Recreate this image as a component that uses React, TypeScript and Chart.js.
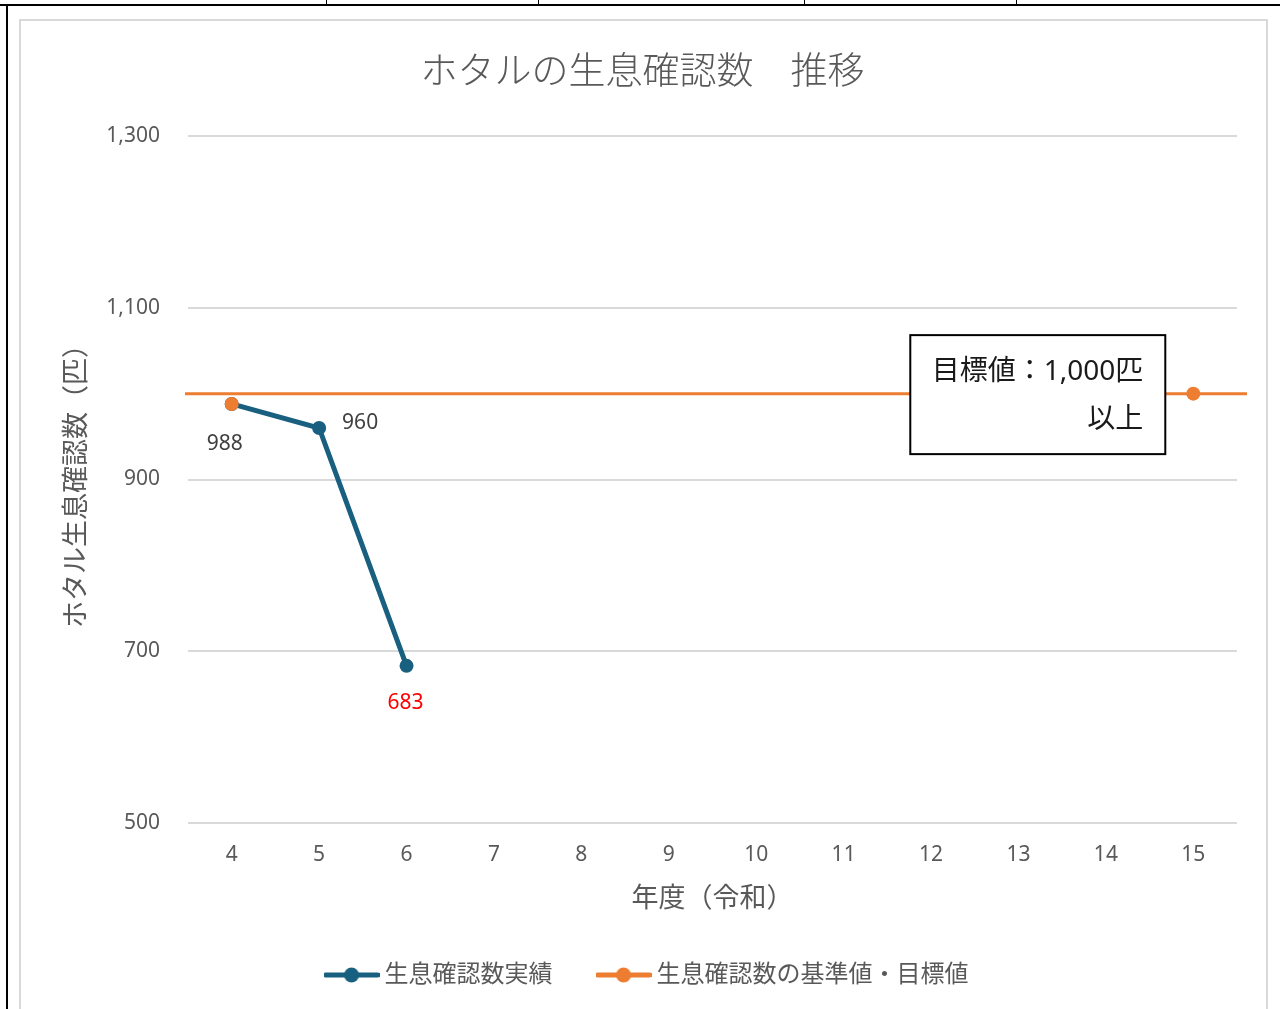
import React, { useEffect, useRef } from "react";
import { Chart, registerables } from "chart.js";

Chart.register(...registerables);

const YEARS = ["4", "5", "6", "7", "8", "9", "10", "11", "12", "13", "14", "15"];
const ACTUAL = [988, 960, 683, null, null, null, null, null, null, null, null, null];
const BASE_TARGET = [988, null, null, null, null, null, null, null, null, null, null, 1000];
const TARGET_VALUE = 1000;
const SERIES_NAMES = ["生息確認数実績", "生息確認数の基準値・目標値"];
const TITLE = "ホタルの生息確認数\u3000推移";
const X_TITLE = "年度（令和）";
const Y_TITLE = "ホタル生息確認数（匹）";
const BOX_LINES = ["目標値：1,000匹", "以上"];
const Y_MIN = 500;
const Y_MAX = 1300;
const Y_STEP = 200;

const BLUE = "#185f80";
const ORANGE = "#ed7d31";
const GREY_TEXT = "#595959";
const FONT = "'Noto Sans', 'Noto Sans CJK JP', sans-serif";

function legendIcon(color: string) {
  const c = document.createElement("canvas");
  c.width = 56;
  c.height = 18;
  const g = c.getContext("2d")!;
  g.strokeStyle = color;
  g.lineWidth = 5;
  g.lineCap = "round";
  g.beginPath();
  g.moveTo(2, 9);
  g.lineTo(54, 9);
  g.stroke();
  g.fillStyle = color;
  g.beginPath();
  g.arc(28, 9, 7.5, 0, Math.PI * 2);
  g.fill();
  return c;
}

const decorPlugin = {
  id: "decor",
  afterLayout(chart: any) {
    const lg = chart.legend;
    if (lg) {
      lg.left += 21;
      lg.right += 21;
    }
    const tb = chart.titleBlock;
    if (tb) {
      tb.left += 14;
      tb.right += 14;
    }
  },
  beforeDatasetsDraw(chart: any) {
    const { ctx, chartArea, scales } = chart;
    const y = scales.y.getPixelForValue(TARGET_VALUE);
    ctx.save();
    ctx.strokeStyle = ORANGE;
    ctx.lineWidth = 3;
    ctx.beginPath();
    ctx.moveTo(chartArea.left - 3, y);
    ctx.lineTo(chartArea.right + 10, y);
    ctx.stroke();
    ctx.restore();
  },
  afterDraw(chart: any) {
    const { ctx, scales } = chart;
    const meta = chart.getDatasetMeta(0);
    const metaO = chart.getDatasetMeta(1);
    ctx.save();
    // data labels
    ctx.font = `21px ${FONT}`;
    ctx.textAlign = "center";
    ctx.textBaseline = "middle";
    const p0 = metaO.data[0];
    ctx.fillStyle = "#404040";
    ctx.fillText(String(BASE_TARGET[0]), p0.x - 7, p0.y + 40);
    const p1 = meta.data[1];
    ctx.fillText(String(ACTUAL[1]), p1.x + 41, p1.y - 5);
    const p2 = meta.data[2];
    ctx.fillStyle = "#ff0000";
    ctx.fillText(String(ACTUAL[2]), p2.x - 1, p2.y + 37);

    // target text box
    const ty = scales.y.getPixelForValue(TARGET_VALUE);
    const xr = scales.x.getPixelForValue(YEARS.length - 1) - 28;
    const bw = 255;
    const bh = 119;
    const bx = xr - bw;
    const by = ty - bh / 2 + 1;
    ctx.fillStyle = "#ffffff";
    ctx.fillRect(bx, by, bw, bh);
    ctx.strokeStyle = "#000000";
    ctx.lineWidth = 2;
    ctx.strokeRect(bx, by, bw, bh);
    ctx.fillStyle = "#1a1a1a";
    ctx.font = `28px ${FONT}`;
    ctx.textAlign = "right";
    ctx.fillText(BOX_LINES[0], xr - 22, ty - 22);
    ctx.fillText(BOX_LINES[1], xr - 22, ty + 26);
    ctx.restore();
  },
};

export default function App() {
  const ref = useRef<HTMLCanvasElement | null>(null);

  useEffect(() => {
    if (!ref.current) return;
    const icons = [legendIcon(BLUE), legendIcon(ORANGE)];
    const chart = new Chart(ref.current, {
      type: "line",
      data: {
        labels: YEARS,
        datasets: [
          {
            label: SERIES_NAMES[0],
            data: ACTUAL,
            borderColor: BLUE,
            backgroundColor: BLUE,
            borderWidth: 5,
            pointRadius: 7,
            pointHoverRadius: 7,
            pointBorderWidth: 0,
            pointBackgroundColor: BLUE,
            spanGaps: false,
            tension: 0,
            order: 1,
          },
          {
            label: SERIES_NAMES[1],
            data: BASE_TARGET,
            borderColor: ORANGE,
            backgroundColor: ORANGE,
            showLine: false,
            pointRadius: 7,
            pointHoverRadius: 7,
            pointBorderWidth: 0,
            pointBackgroundColor: ORANGE,
            order: 0,
          },
        ],
      },
      options: {
        animation: false,
        responsive: false,
        maintainAspectRatio: false,
        layout: { padding: { left: 20, right: 43, top: 22, bottom: 12 } },
        plugins: {
          tooltip: { enabled: false },
          title: {
            display: true,
            text: TITLE,
            color: GREY_TEXT,
            font: { family: FONT, size: 37, weight: "300" as any, lineHeight: 1.2 },
            padding: { top: 28.8, bottom: 40.8 },
          },
          legend: {
            display: true,
            position: "bottom",
            labels: {
              color: GREY_TEXT,
              font: { family: FONT, size: 24 },
              padding: 50,
              usePointStyle: true,
              pointStyleWidth: 42,
              boxHeight: 24,
              generateLabels: (c: any) =>
                c.data.datasets.map((ds: any, i: number) => ({
                  text: ds.label,
                  fillStyle: ds.borderColor,
                  strokeStyle: ds.borderColor,
                  lineWidth: 0,
                  pointStyle: icons[i],
                  hidden: false,
                  datasetIndex: i,
                  fontColor: GREY_TEXT,
                })),
            },
          },
        },
        scales: {
          x: {
            type: "category",
            offset: true,
            grid: { display: false, drawTicks: false },
            border: { display: false },
            ticks: {
              color: GREY_TEXT,
              font: { family: FONT, size: 21 },
              padding: 19,
              maxRotation: 0,
              autoSkip: false,
            },
            title: {
              display: true,
              text: X_TITLE,
              color: GREY_TEXT,
              font: { family: FONT, size: 27, lineHeight: 1 },
              padding: { top: 0, bottom: 0.5 },
            },
            afterFit: (s: any) => {
              s.height = 90;
            },
          },
          y: {
            min: Y_MIN,
            max: Y_MAX,
            grid: { color: "#d9d9d9", lineWidth: 2, drawTicks: false },
            border: { display: false },
            ticks: {
              stepSize: Y_STEP,
              color: GREY_TEXT,
              font: { family: FONT, size: 21 },
              padding: 28,
              callback: (v: any) => Number(v).toLocaleString("en-US"),
            },
            title: {
              display: true,
              text: Y_TITLE,
              color: GREY_TEXT,
              font: { family: FONT, size: 27, lineHeight: 1.2 },
              padding: { top: 40.8, bottom: 0 },
            },
            afterFit: (s: any) => {
              s.width = 168;
            },
          },
        },
      },
      plugins: [decorPlugin],
    });
    return () => chart.destroy();
  }, []);

  const line = (style: React.CSSProperties) => (
    <div style={{ position: "absolute", background: "#000", ...style }} />
  );

  return (
    <div style={{ position: "fixed", left: 0, top: 0, width: 1280, height: 1009, background: "#fff", overflow: "hidden" }}>
      {line({ left: 0, top: 4, width: 1280, height: 2 })}
      {line({ left: 326, top: 0, width: 1, height: 5 })}
      {line({ left: 538, top: 0, width: 1, height: 5 })}
      {line({ left: 804, top: 0, width: 1, height: 5 })}
      {line({ left: 1016, top: 0, width: 1, height: 5 })}
      {line({ left: 6, top: 5, width: 2, height: 1004 })}
      <div
        style={{
          position: "absolute",
          left: 19,
          top: 19,
          width: 1245,
          height: 1000,
          border: "2px solid #d9d9d9",
          background: "#fff",
        }}
      />
      <canvas ref={ref} width={1280} height={1009} style={{ position: "absolute", left: 0, top: 0, width: 1280, height: 1009 }} />
    </div>
  );
}
